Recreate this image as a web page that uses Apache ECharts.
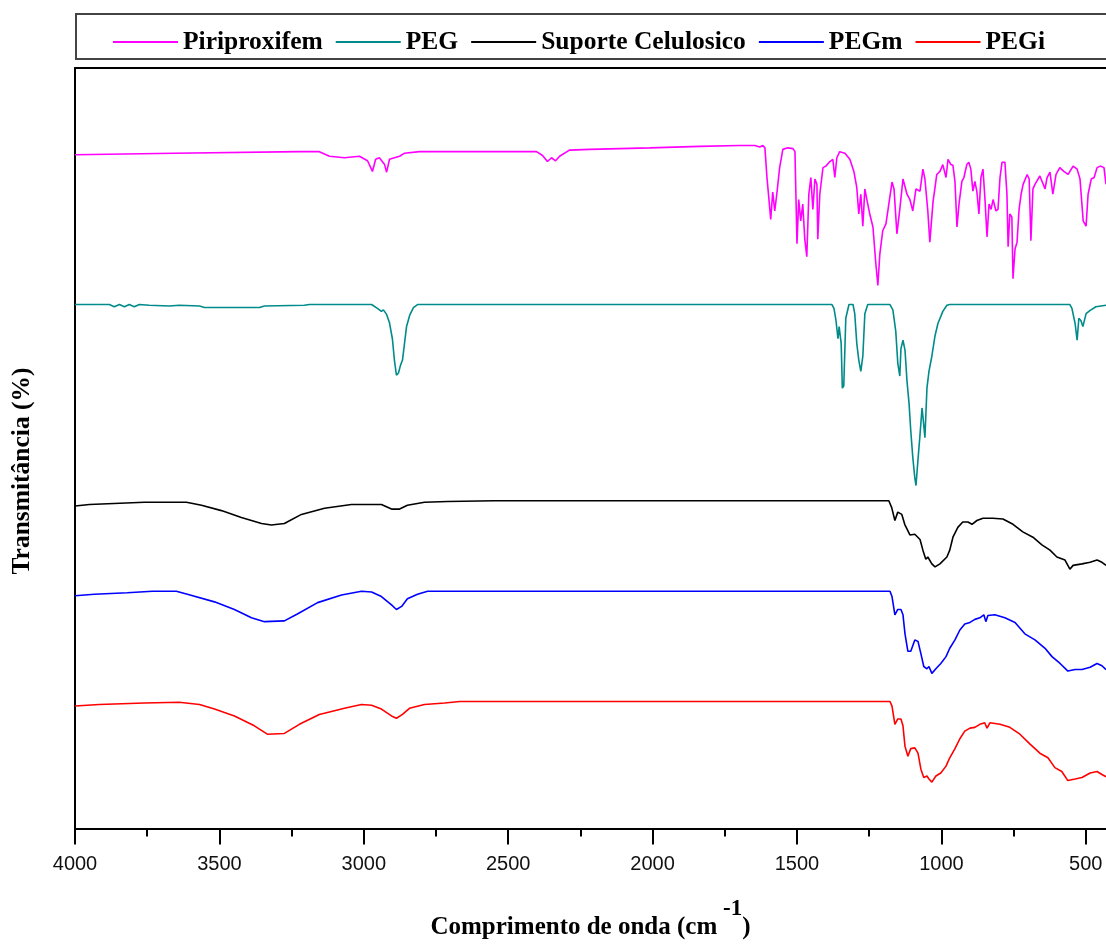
<!DOCTYPE html>
<html>
<head>
<meta charset="utf-8">
<script src="https://cdn.jsdelivr.net/npm/echarts@6/dist/echarts.min.js"></script>
<style>
html,body{margin:0;padding:0;background:#fff;}
#chart{width:1106px;height:945px;}
</style>
</head>
<body>
<div id="chart"></div>
<script>
// ---------- DATA (wavenumber cm-1 / transmittance, arbitrary offset units) ----------
const seriesNames = ['Piriproxifem', 'PEG', 'Suporte Celulosico', 'PEGm', 'PEGi'];
const xTickLabels = ['4000', '3500', '3000', '2500', '2000', '1500', '1000', '500'];
const xMinorTicks = [3750, 3250, 2750, 2250, 1750, 1250, 750];

const piriWn = [4000,3656,3223,3154,3119,3067,3015,2987,2970,2959,
2946,2928,2921,2911,2894,2876,2859,2807,2402,2381,
2364,2350,2336,2322,2288,2218,2010,1837,1698,1646,
1629,1618,1611,1604,1597,1591,1584,1577,1570,1560,
1549,1532,1514,1507,1500,1494,1487,1480,1473,1466,
1459,1452,1445,1438,1431,1428,1421,1410,1400,1386,
1376,1369,1362,1352,1334,1317,1303,1293,1286,1279,
1272,1265,1258,1248,1237,1227,1220,1213,1203,1192,
1182,1171,1164,1154,1144,1133,1119,1109,1099,1088,
1074,1064,1057,1047,1040,1029,1022,1016,1005,995,
984,977,967,960,953,946,939,929,922,912,
905,898,891,884,877,870,863,856,849,842,
835,828,821,811,804,797,790,780,773,769,
763,756,752,745,738,731,724,717,703,696,
690,683,676,659,641,634,624,614,603,590,
576,561,544,530,520,509,499,492,481,471,
461,450,437,430];
const piriT = [88.6,88.8,89.0,89.0,88.4,88.2,88.4,87.8,86.4,88.0,
88.2,87.3,86.3,88.0,88.2,88.4,88.8,89.0,89.0,88.5,
87.7,88.2,87.8,88.4,89.2,89.3,89.5,89.7,89.8,89.8,
89.6,89.8,89.5,85.6,82.7,80.1,83.7,81.2,83.4,86.9,
89.3,89.5,89.4,89.0,76.9,82.7,79.9,82.1,77.5,75.2,
83.4,85.6,81.4,85.4,84.7,77.5,83.4,86.9,87.1,87.7,
88.0,85.6,88.2,89.0,88.8,88.0,86.4,84.3,80.8,83.4,
79.2,84.1,82.7,80.8,79.1,74.3,71.4,75.6,78.6,79.5,
82.1,85.0,84.1,78.2,81.4,85.4,83.4,82.7,81.2,84.1,
83.8,86.7,85.4,81.2,77.1,82.4,84.3,86.0,86.4,87.3,
85.6,88.0,87.3,87.2,85.1,79.1,82.1,85.1,85.6,87.3,
87.6,86.7,83.8,85.1,83.7,80.8,85.6,86.7,82.7,77.8,
82.1,81.4,82.7,81.2,81.4,85.6,87.6,87.6,83.4,76.5,
80.8,80.4,72.3,76.2,77.1,81.4,83.4,84.7,86.0,85.4,
77.3,84.1,84.7,85.8,84.1,85.6,86.3,83.4,86.0,86.9,
86.4,86.0,87.1,86.7,85.4,79.9,79.2,83.4,85.4,85.6,
86.9,87.1,86.9,84.7];

const pegWn = [4000,3881,3864,3846,3829,3812,3795,3777,3743,3673,
3639,3569,3552,3361,3344,3206,3188,2973,2953,2939,
2932,2921,2911,2901,2894,2887,2880,2873,2866,2859,
2852,2841,2828,2814,1379,1372,1365,1358,1354,1347,
1343,1338,1331,1320,1306,1300,1293,1286,1279,1272,
1265,1255,1178,1168,1158,1151,1144,1140,1133,1126,
1119,1112,1106,1099,1092,1088,1081,1074,1067,1064,
1057,1050,1043,1033,1022,1012,995,981,971,555,
548,537,530,524,517,510,499,486,465,430];
const pegT = [68.9,68.9,68.6,68.9,68.6,68.9,68.6,68.9,68.8,68.7,
68.8,68.7,68.5,68.5,68.7,68.8,68.9,68.9,68.4,68.0,
68.2,67.6,66.5,64.4,61.6,59.6,59.9,60.9,61.6,63.8,
66.0,67.5,68.5,68.9,68.9,68.4,66.8,64.4,66.0,63.8,
57.9,58.2,67.1,68.9,68.9,67.7,63.8,61.6,60.1,62.1,
67.7,68.9,68.9,68.2,65.4,61.2,59.5,63.1,64.2,62.9,
58.8,55.9,52.3,48.8,46.1,45.1,48.5,51.8,55.3,54.2,
51.4,57.9,60.1,62.1,64.8,66.4,68.0,68.8,68.9,68.9,
68.4,66.4,64.2,67.1,66.8,66.0,67.7,68.1,68.6,68.8];

const scWn = [4000,3950,3760,3614,3562,3493,3424,3354,3320,3275,
3216,3136,3043,2939,2904,2876,2849,2790,2710,2547,
1182,1172,1161,1151,1137,1127,1109,1092,1074,1064,
1054,1047,1033,1022,1005,981,971,960,943,926,
908,894,877,856,822,787,752,718,683,652,
624,600,572,555,544,513,485,461,444,430];
const scT = [42.4,42.6,42.9,42.9,42.5,41.8,40.9,40.1,39.9,40.1,
41.3,42.1,42.6,42.6,42.0,42.0,42.5,42.9,43.0,43.1,
43.1,42.2,40.5,41.6,41.3,40.0,38.6,38.7,38.0,36.6,
35.4,35.7,34.8,34.4,34.8,35.7,36.6,38.3,39.6,40.3,
40.3,40.0,40.5,40.8,40.8,40.7,40.0,39.0,38.3,37.3,
36.6,35.7,35.3,34.1,34.6,34.8,35.0,35.3,35.0,34.6];

const pegmWn = [4000,3933,3819,3732,3649,3611,3517,3448,3389,3344,
3275,3230,3160,3077,3008,2973,2939,2904,2887,2869,
2849,2814,2779,1178,1171,1161,1151,1140,1133,1126,
1116,1106,1092,1081,1071,1061,1050,1043,1033,1019,
1002,984,971,953,936,919,901,884,867,853,
846,839,815,780,745,711,676,641,617,589,
562,537,513,485,461,444,430];
const pegmT = [30.6,30.8,31.0,31.2,31.2,30.8,29.8,28.8,27.7,27.2,
27.3,28.2,29.7,30.7,31.2,31.1,30.5,29.4,28.8,29.2,
30.2,30.8,31.2,31.2,30.5,28.1,28.8,28.8,28.1,25.6,
23.3,23.3,24.8,24.6,23.0,21.3,21.0,21.3,20.4,21.0,
21.7,22.6,23.7,24.8,26.1,26.9,27.1,27.5,27.7,28.1,
27.2,28.0,28.1,27.7,27.1,25.6,24.8,23.7,22.6,21.7,
20.7,20.9,20.9,21.2,21.7,21.4,20.9];

const pegiWn = [4000,3916,3760,3639,3569,3517,3448,3379,3334,3275,
3223,3154,3067,3008,2973,2939,2904,2887,2866,2842,
2790,2720,2668,1178,1171,1161,1151,1140,1133,1126,
1116,1106,1092,1081,1071,1061,1050,1043,1033,1019,
1002,984,971,953,936,919,901,884,867,850,
842,832,797,763,728,693,659,631,607,583,
562,537,513,485,461,444,430];
const pegiT = [16.1,16.3,16.5,16.6,16.3,15.7,14.8,13.5,12.4,12.5,
13.7,15.0,15.8,16.3,16.2,15.7,14.8,14.5,15.0,15.8,
16.3,16.5,16.7,16.7,16.1,13.7,14.4,14.4,13.5,10.8,
9.5,10.5,10.6,9.9,7.8,6.7,6.9,6.5,6.1,6.9,
7.3,8.2,9.3,10.5,11.8,12.8,13.2,13.3,13.7,13.9,
13.2,13.9,13.7,13.3,12.4,11.1,9.9,9.3,8.0,7.5,
6.3,6.5,6.7,7.3,7.5,7.1,6.8];

const colors = ['#FF00FF', '#008B8B', '#000000', '#0000FF', '#FF0000'];

// ---------- BUILD ----------
function zip(xs, ys) {
  const n = Math.min(xs.length, ys.length);
  const out = [];
  for (let i = 0; i < n; i++) out.push([xs[i], ys[i]]);
  return out;
}
const allData = [zip(piriWn, piriT), zip(pegWn, pegT), zip(scWn, scT), zip(pegmWn, pegmT), zip(pegiWn, pegiT)];
const majorTicks = xTickLabels.map(Number);

const serif = '"Liberation Serif", "Times New Roman", serif';
const sans = '"Liberation Sans", Arial, sans-serif';
const X_MIN = 430, X_MAX = 4000;

const chart = echarts.init(document.getElementById('chart'), null, {renderer: 'canvas'});
chart.setOption({
  animation: false,
  backgroundColor: '#ffffff',
  color: colors,
  grid: {left: 75, right: 0, top: 68, bottom: 109, containLabel: false},
  legend: {
    data: seriesNames,
    left: 113, top: 29, padding: 0,
    icon: 'rect', itemWidth: 65, itemHeight: 2, itemGap: 13,
    textStyle: {fontFamily: serif, fontWeight: 'bold', fontSize: 25.5, color: '#000'}
  },
  graphic: [
    {type: 'rect', shape: {x: 76, y: 14, width: 1040, height: 45},
     style: {fill: 'none', stroke: '#444', lineWidth: 2}, silent: true},
    {type: 'text', x: 22, y: 471, rotation: Math.PI / 2,
     style: {text: 'Transmitância (%)', font: 'bold 25.5px ' + serif, fill: '#000', align: 'center', verticalAlign: 'middle'}}
  ],
  xAxis: [{
    type: 'value', inverse: true, min: X_MIN, max: X_MAX, splitNumber: 7,
    position: 'bottom',
    axisLine: {show: true, lineStyle: {color: '#000', width: 2}},
    axisTick: {show: true, length: 16, customValues: majorTicks, lineStyle: {color: '#000', width: 2}},
    minorTick: {show: false},
    splitLine: {show: false}, minorSplitLine: {show: false},
    axisLabel: {
      margin: 26, fontFamily: sans, fontSize: 20, color: '#111',
      customValues: majorTicks,
      formatter: function (v) { return String(Math.round(v)); }
    },
    name: '{t|Comprimento de onda (cm}{s| -1}{t|)}',
    nameLocation: 'middle', nameGap: 69,
    nameTextStyle: {
      rich: {
        t: {fontFamily: serif, fontWeight: 'bold', fontSize: 25, color: '#000', lineHeight: 60},
        s: {fontFamily: serif, fontWeight: 'bold', fontSize: 23, color: '#000', lineHeight: 22, verticalAlign: 'top'}
      }
    }
  }, {
    type: 'value', inverse: true, min: X_MIN, max: X_MAX, position: 'top',
    axisLine: {show: true, lineStyle: {color: '#000', width: 2}},
    axisTick: {show: false}, axisLabel: {show: false}, splitLine: {show: false}
  }, {
    type: 'value', inverse: true, min: X_MIN, max: X_MAX, position: 'bottom', offset: 0,
    axisLine: {show: false},
    axisTick: {show: true, length: 8, customValues: xMinorTicks, lineStyle: {color: '#000', width: 2}},
    axisLabel: {show: false}, splitLine: {show: false}
  }],
  yAxis: {
    type: 'value', min: 0, max: 100,
    axisLine: {show: true, lineStyle: {color: '#000', width: 2}},
    axisTick: {show: false}, axisLabel: {show: false}, splitLine: {show: false}
  },
  series: seriesNames.map((name, i) => ({
    name: name, type: 'line', xAxisIndex: 0, data: allData[i],
    showSymbol: false, symbol: 'none', smooth: false, sampling: null,
    lineStyle: {width: 1.6, color: colors[i]}, itemStyle: {color: colors[i]},
    emphasis: {disabled: true}
  }))
});
</script>
</body>
</html>
